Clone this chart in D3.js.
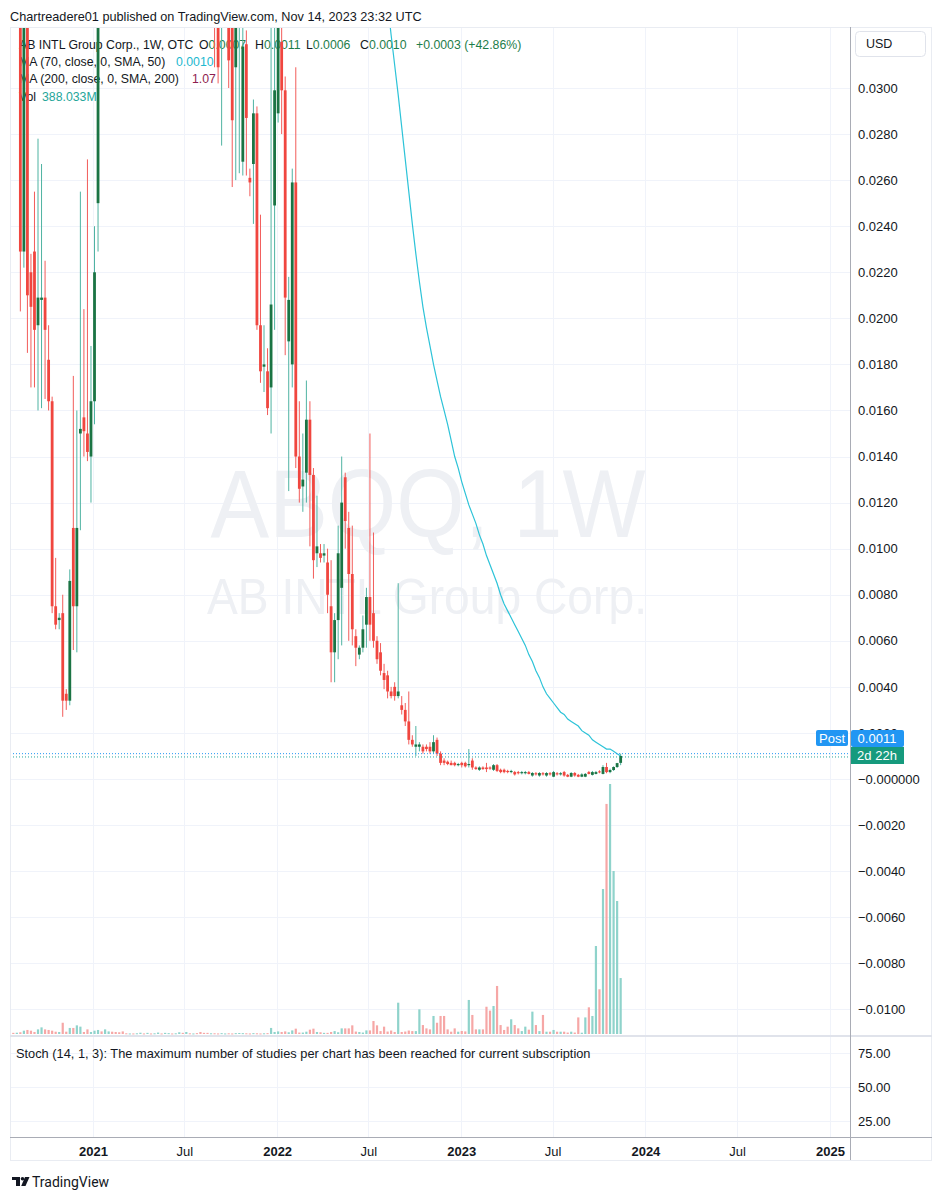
<!DOCTYPE html>
<html>
<head>
<meta charset="utf-8">
<title>ABQQ, 1W</title>
<style>
  body { margin: 0; background: #fff; }
</style>
</head>
<body>
<div id="chart"></div>
<script src="https://d3js.org/d3.v7.min.js"></script>
<script>
// weekly candles, first week starts Monday 2020-07-27 (null = candle above the visible range)
const firstWeek = "2020-07-27";

const opens = [
  null, null, 0.0380, 0.0229, 0.0360, 0.0220, 0.0229, 0.0197, 0.0208, 0.0209,
  0.0182, 0.0164, 0.0075, 0.0069, 0.0072, 0.0037, 0.0034, 0.0109, 0.0075, 0.0150,
  0.0157, 0.0150, 0.0140, 0.0164, 0.0250, null, null, null, null, null,
  null, null, null, null, null, null, null, null, null, null,
  null, null, null, null, null, null, null, null, null, null,
  null, null, null, null, null, null, null, 0.0500, 0.0400, 0.0330,
  null, 0.0400, 0.0340, 0.0309, 0.0340, 0.0268, 0.0319, 0.0261, 0.0267, 0.0289,
  0.0197, 0.0179, 0.0177, 0.0170, 0.0249, 0.0289, 0.0320, 0.0299, 0.0190, 0.0180,
  0.0259, 0.0140, 0.0127, 0.0133, 0.0156, 0.0132, 0.0098, 0.0098, 0.0097, 0.0094,
  0.0075, 0.0055, 0.0069, 0.0083, 0.0131, 0.0109, 0.0089, 0.0062, 0.0054, 0.0057,
  0.0067, 0.0079, 0.0072, 0.0060, 0.0055, 0.0046, 0.0045, 0.0038, 0.0040, 0.0036,
  0.0032, 0.0030, 0.0025, 0.0017, 0.0014, 0.0014, 0.0014, 0.0014, 0.0014, 0.0012,
  0.0017, 0.0011, 0.0008, 0.00075, 0.0007, 0.0007, 0.0006, 0.0007, 0.0007, 0.0006,
  0.0008, 0.0005, 0.0004, 0.0005, 0.0005, 0.0005, 0.0004, 0.0006, 0.0004, 0.0004,
  0.00035, 0.0003, 0.0003, 0.0003, 0.00025, 0.00025, 0.0003, 0.00015, 0.00025, 0.00015,
  0.00025, 0.00015, 0.00025, 0.0001, 0.00025, 0.0002, 0.0003, 0.00018, 0.0001, 0.00026,
  0.00018, 0.0001, 0.0001, 0.0003, 0.00018, 0.00022, 0.00033, 0.00022, 0.00052, 0.0003,
  0.00039, 0.00052, 0.0007
];

const highs = [
  null, null, 0.0420, 0.0400, 0.0380, 0.0228, 0.0255, 0.0278, 0.0267, 0.0225,
  0.0197, 0.0166, 0.0096, 0.0072, 0.0080, 0.0039, 0.0091, 0.0175, 0.0160, 0.0255,
  0.0204, 0.0269, 0.0188, 0.0240, 0.0450, null, null, null, null, null,
  null, null, null, null, null, null, null, null, null, null,
  null, null, null, null, null, null, null, null, null, null,
  null, null, null, null, null, null, null, 0.0550, 0.0430, 0.0400,
  null, 0.0420, 0.0360, 0.0400, 0.0390, 0.0340, 0.0325, 0.0265, 0.0295, 0.0292,
  0.0245, 0.0197, 0.0187, 0.0330, 0.0330, 0.0360, 0.0340, 0.0305, 0.0218, 0.0265,
  0.0309, 0.0164, 0.0150, 0.0173, 0.0164, 0.0135, 0.0123, 0.0102, 0.0102, 0.0100,
  0.0095, 0.0072, 0.0110, 0.0140, 0.0133, 0.0116, 0.0110, 0.0065, 0.0058, 0.0071,
  0.0083, 0.0150, 0.0107, 0.0062, 0.0059, 0.0050, 0.0047, 0.0040, 0.0042, 0.0085,
  0.0036, 0.0033, 0.0038, 0.0019, 0.0023, 0.0016, 0.0015, 0.0015, 0.0016, 0.0019,
  0.0018, 0.0012, 0.0009, 0.0008, 0.0008, 0.00075, 0.0007, 0.00075, 0.00075, 0.0013,
  0.0009, 0.00055, 0.00055, 0.00055, 0.0007, 0.00055, 0.00065, 0.00065, 0.00045, 0.00045,
  0.0004, 0.0004, 0.00035, 0.00035, 0.00035, 0.00035, 0.00035, 0.0003, 0.0003, 0.0003,
  0.0003, 0.0003, 0.0003, 0.00035, 0.0003, 0.0003, 0.00035, 0.00022, 0.0003, 0.0003,
  0.00022, 0.00025, 0.00026, 0.00035, 0.00035, 0.00035, 0.00038, 0.0006, 0.0007, 0.00045,
  0.00055, 0.0007, 0.0011
];

const lows = [
  null, null, 0.0203, 0.0222, 0.0185, 0.0170, 0.0170, 0.0160, 0.0161, 0.0165,
  0.0160, 0.0072, 0.0065, 0.0065, 0.0027, 0.0030, 0.0032, 0.0056, 0.0055, 0.0108,
  0.0140, 0.0138, 0.0120, 0.0154, 0.0229, null, null, null, null, null,
  null, null, null, null, null, null, null, null, null, null,
  null, null, null, null, null, null, null, null, null, null,
  null, null, null, null, null, null, null, 0.0309, 0.0302, 0.0275,
  null, 0.0300, 0.0257, 0.0260, 0.0263, 0.0262, 0.0262, 0.0253, 0.0241, 0.0195,
  0.0172, 0.0168, 0.0158, 0.0150, 0.0195, 0.0285, 0.0280, 0.0184, 0.0125, 0.0170,
  0.0135, 0.0120, 0.0116, 0.0120, 0.0101, 0.0087, 0.0092, 0.0094, 0.0094, 0.0072,
  0.0042, 0.0042, 0.0052, 0.0058, 0.0100, 0.0060, 0.0058, 0.0049, 0.0052, 0.0055,
  0.0057, 0.0060, 0.0057, 0.0050, 0.0045, 0.0039, 0.0035, 0.0035, 0.0034, 0.0035,
  0.0028, 0.0023, 0.0015, 0.0014, 0.0010, 0.0012, 0.0011, 0.0012, 0.0011, 0.0011,
  0.0010, 0.0006, 0.0006, 0.0006, 0.0006, 0.00055, 0.00055, 0.0005, 0.0005, 0.0005,
  0.0004, 0.0004, 0.00035, 0.0004, 0.0003, 0.0004, 0.00035, 0.0003, 0.00025, 0.00025,
  0.00025, 0.00025, 0.00015, 0.0002, 0.0002, 0.0002, 0.0002, 0.0001, 0.00015, 0.0001,
  0.00015, 0.0001, 0.00015, 0.00008, 0.00015, 0.00015, 0.0001, 0.00008, 0.00008, 0.0001,
  0.00008, 0.00008, 0.00008, 0.0002, 0.00015, 0.0002, 0.00025, 0.0002, 0.00025, 0.00025,
  0.00035, 0.00048, 0.0006
];

const closes = [
  null, null, 0.0229, 0.0360, 0.0210, 0.0205, 0.0195, 0.0209, 0.0209, 0.0195,
  0.0164, 0.0075, 0.0067, 0.0070, 0.0034, 0.0034, 0.0086, 0.0075, 0.0109, 0.0152,
  0.0151, 0.0142, 0.0164, 0.0220, 0.0420, null, null, null, null, null,
  null, null, null, null, null, null, null, null, null, null,
  null, null, null, null, null, null, null, null, null, null,
  null, null, null, null, null, null, null, 0.0400, 0.0309, 0.0380,
  null, 0.0312, 0.0286, 0.0360, 0.0370, 0.0318, 0.0287, 0.0259, 0.0289, 0.0197,
  0.0177, 0.0180, 0.0161, 0.0206, 0.0299, 0.0330, 0.0299, 0.0209, 0.0208, 0.0259,
  0.0140, 0.0126, 0.0130, 0.0156, 0.0132, 0.0095, 0.0101, 0.0096, 0.0098, 0.0080,
  0.0055, 0.0069, 0.0098, 0.0120, 0.0112, 0.0089, 0.0065, 0.0057, 0.0057, 0.0065,
  0.0079, 0.0067, 0.0060, 0.0052, 0.0047, 0.0043, 0.0038, 0.0036, 0.0036, 0.0038,
  0.0030, 0.0025, 0.0017, 0.0015, 0.0015, 0.0015, 0.0012, 0.0013, 0.0012, 0.0016,
  0.0011, 0.0007, 0.0007, 0.00065, 0.0006, 0.0006, 0.00065, 0.0006, 0.00055, 0.00065,
  0.0005, 0.00043, 0.0005, 0.00043, 0.00043, 0.00045, 0.0006, 0.00035, 0.0003, 0.0003,
  0.0003, 0.00035, 0.0002, 0.00025, 0.0003, 0.0003, 0.00022, 0.00026, 0.0002, 0.00026,
  0.0002, 0.00026, 0.0002, 0.0003, 0.0002, 0.00025, 0.00015, 0.0001, 0.00026, 0.00015,
  0.0001, 0.0002, 0.00022, 0.00022, 0.0003, 0.0003, 0.0003, 0.00052, 0.0003, 0.00039,
  0.00052, 0.00069, 0.0010
];

// weekly volume, millions of shares
const volumes = [
  8, 9, 12, 23, 28, 23, 14, 32, 46, 32,
  28, 23, 16, 14, 78, 16, 42, 42, 60, 51,
  14, 32, 14, 23, 28, 18, 32, 18, 16, 14,
  12, 18, 5, 4, 4, 5, 9, 4, 8, 4,
  5, 10, 4, 8, 6, 4, 5, 12, 8, 14,
  5, 4, 6, 14, 8, 8, 5, 5, 4, 6,
  4, 5, 4, 6, 7, 6, 5, 4, 6, 5,
  4, 5, 6, 42, 14, 18, 14, 18, 12, 25,
  37, 10, 10, 16, 30, 37, 14, 12, 8, 8,
  14, 20, 12, 39, 39, 39, 60, 17, 14, 10,
  25, 25, 90, 60, 20, 51, 17, 24, 14, 217,
  14, 17, 24, 20, 20, 171, 62, 39, 32, 125,
  78, 125, 125, 32, 16, 39, 16, 21, 18, 236,
  132, 32, 32, 32, 189, 162, 194, 333, 62, 28,
  51, 102, 62, 39, 20, 51, 30, 155, 62, 20,
  132, 16, 16, 28, 16, 16, 16, 10, 16, 10,
  115, 9, 115, 185, 125, 610, 310, 1005, 1595, 1733,
  1130, 922, 388
];

// up (1) / down (0) colour of the volume bars whose candle is off the chart, in order
const hiddenUp = [
  0, 1,
  0, 1, 1, 0, 0, 0, 0, 0, 1, 0, 1, 1, 0, 1, 0, 1,
  1, 0, 1, 1, 0, 1, 1, 0, 1, 0, 1, 0, 0, 0, 0, 1,
  1
];

// MA (70, close, 0, SMA, 50), visible part from week of 2022-08-08
const maFrom = "2022-08-08";
const maValues = [
  0.0337, 0.0323, 0.0310, 0.0297, 0.0283, 0.0269, 0.0255, 0.0241, 0.0228, 0.0216,
  0.0205, 0.0196, 0.0188, 0.0180, 0.0173, 0.0166, 0.0160, 0.0154, 0.0147, 0.0140,
  0.0135, 0.0129, 0.0124, 0.0119, 0.0115, 0.0111, 0.0106, 0.0102, 0.0097, 0.0093,
  0.0089, 0.0085, 0.0080, 0.0076, 0.0073, 0.0070, 0.0067, 0.0064, 0.0061, 0.0058,
  0.0054, 0.0051, 0.0047, 0.0044, 0.0040, 0.0037, 0.0035, 0.0033, 0.0031, 0.0029,
  0.0028, 0.0026, 0.0025, 0.0024, 0.0023, 0.0021, 0.0020, 0.0019, 0.0017, 0.0016,
  0.0015, 0.0014, 0.0013, 0.0013, 0.0012, 0.0011, 0.0010
];

const priceTicks = [0.030, 0.028, 0.026, 0.024, 0.022, 0.020, 0.018, 0.016, 0.014, 0.012, 0.010,
  0.008, 0.006, 0.004, 0.002, 0, -0.002, -0.004, -0.006, -0.008, -0.010];
const priceLabels = ["0.0300", "0.0280", "0.0260", "0.0240", "0.0220", "0.0200", "0.0180", "0.0160",
  "0.0140", "0.0120", "0.0100", "0.0080", "0.0060", "0.0040", "0.0020", "\u22120.000000",
  "\u22120.0020", "\u22120.0040", "\u22120.0060", "\u22120.0080", "\u22120.0100"];
const timeTicks = ["2021-01-01", "2021-07-01", "2022-01-01", "2022-07-01", "2023-01-01",
  "2023-07-01", "2024-01-01", "2024-07-01", "2025-01-01"];
const timeLabels = ["2021", "Jul", "2022", "Jul", "2023", "Jul", "2024", "Jul", "2025"];
const stochTicks = [75, 50, 25];
const stochLabels = ["75.00", "50.00", "25.00"];

const legendOhlcNames = ["O", "H", "L", "C"];
const legendOhlcValues = ["0.0007", "0.0011", "0.0006", "0.0010"];
const legendChange = "+0.0003 (+42.86%)";
const postPrice = 0.0011;
const lastClose = 0.0010;

console.assert([opens, highs, lows, closes, volumes].every(a => a.length === 173), "length");

// layout
const FONT = '"Liberation Sans", Arial, sans-serif';
const chartLeft = 10, chartRight = 932, axisX = 850, paneTop = 27, paneBottom = 1035, timeTop = 1137, chartBottom = 1160;
const upBody = "#1b7444", upWick = "#4fb3a2", downBody = "#f0463f", downWick = "#f25c5a";
const upVol = "#8fd3cb", downVol = "#f6a7a6";

const parse = d3.utcParse("%Y-%m-%d");
const x = d3.scaleUtc().domain([parse("2021-01-01"), parse("2025-01-01")]).range([93, 830]);
const y = d3.scaleLinear().domain([0, 0.03]).range([779, 88]);
const yVol = d3.scaleLinear().domain([0, 1740]).range([1034, 783]);
const yStoch = d3.scaleLinear().domain([0, 100]).range([1155, 1019]);

const start = parse(firstWeek);
let k = 0;
const weeks = volumes.map((v, i) => {
  const w = {date: d3.utcDay.offset(start, 7 * i), o: opens[i], h: highs[i], l: lows[i], c: closes[i], v: v};
  w.up = w.o == null ? hiddenUp[k++] === 1 : w.c >= w.o;
  return w;
});
const maStart = parse(maFrom);
const ma = maValues.map((v, i) => ({date: d3.utcDay.offset(maStart, 7 * i), v: v}));

const svg = d3.select("#chart").append("svg")
  .attr("width", 942).attr("height", 1200)
  .style("font-family", FONT);

svg.append("rect").attr("width", 942).attr("height", 1200).attr("fill", "#fff");

// header line
svg.append("text").attr("x", 10).attr("y", 17).attr("dy", "0.35em")
  .attr("font-size", 12.7).attr("fill", "#131722")
  .text("Chartreadere01 published on TradingView.com, Nov 14, 2023 23:32 UTC");

// grid
const px = v => Math.round(v) + 0.5;
const grid = svg.append("g").attr("stroke", "#f0f3fa").attr("stroke-width", 1);
grid.selectAll(".hg").data(priceTicks).join("line").attr("class", "hg")
  .attr("x1", chartLeft).attr("x2", axisX).attr("y1", d => px(y(d))).attr("y2", d => px(y(d)));
grid.selectAll(".sg").data(stochTicks).join("line").attr("class", "sg")
  .attr("x1", chartLeft).attr("x2", axisX).attr("y1", d => px(yStoch(d))).attr("y2", d => px(yStoch(d)));
grid.selectAll(".vg").data(timeTicks).join("line").attr("class", "vg")
  .attr("x1", d => px(x(parse(d)))).attr("x2", d => px(x(parse(d))))
  .attr("y1", paneTop).attr("y2", timeTop);

// watermark
const wm = svg.append("g").attr("fill", "#eef0f4").attr("text-anchor", "middle");
wm.append("text").attr("x", 428).attr("y", 537).attr("font-size", 96)
  .attr("textLength", 435).attr("lengthAdjust", "spacingAndGlyphs").text("ABQQ, 1W");
wm.append("text").attr("x", 427).attr("y", 614).attr("font-size", 50)
  .attr("textLength", 440).attr("lengthAdjust", "spacingAndGlyphs").text("AB INTL Group Corp.");

// legend (drawn under the candles, as in the original)
const lg = svg.append("g").attr("font-size", 12.3).attr("fill", "#131722");
const l1 = lg.append("text").attr("x", 19).attr("y", 45).attr("dy", "0.35em");
l1.append("tspan").text("AB INTL Group Corp., 1W, OTC");
const ohlcX = [199, 255, 306, 360];
legendOhlcNames.forEach((n, i) => {
  l1.append("tspan").attr("x", ohlcX[i]).text(n);
  l1.append("tspan").attr("fill", "#1e7d4a").text(legendOhlcValues[i]);
});
l1.append("tspan").attr("x", 416).attr("fill", "#1e7d4a").text(legendChange);
const l2 = lg.append("text").attr("x", 19).attr("y", 62).attr("dy", "0.35em");
l2.append("tspan").text("MA (70, close, 0, SMA, 50)");
l2.append("tspan").attr("x", 176).attr("fill", "#22b8cf").text("0.0010");
const l3 = lg.append("text").attr("x", 19).attr("y", 79).attr("dy", "0.35em");
l3.append("tspan").text("MA (200, close, 0, SMA, 200)");
l3.append("tspan").attr("x", 192).attr("fill", "#8e1d4f").text("1.07");
const l4 = lg.append("text").attr("x", 19).attr("y", 97).attr("dy", "0.35em");
l4.append("tspan").text("Vol");
l4.append("tspan").attr("x", 42).attr("fill", "#26a69a").text("388.033M");

// clip for the price pane
svg.append("clipPath").attr("id", "pane").append("rect")
  .attr("x", chartLeft).attr("y", paneTop).attr("width", axisX - chartLeft).attr("height", paneBottom - paneTop);
const pane = svg.append("g").attr("clip-path", "url(#pane)");

// volume
pane.append("g").selectAll("rect").data(weeks).join("rect")
  .attr("x", d => x(d.date) - 1.1).attr("width", 2.2)
  .attr("y", d => yVol(d.v)).attr("height", d => Math.max(1, yVol(0) - yVol(d.v)))
  .attr("fill", d => d.up ? upVol : downVol);

// moving average
pane.append("path").datum(ma)
  .attr("fill", "none").attr("stroke", "#2dc3d8").attr("stroke-width", 1.2)
  .attr("d", d3.line().x(d => x(d.date)).y(d => y(d.v)));

// candles
const candles = weeks.filter(d => d.o != null);
const cg = pane.append("g");
cg.selectAll("line").data(candles).join("line")
  .attr("x1", d => x(d.date)).attr("x2", d => x(d.date))
  .attr("y1", d => y(d.h)).attr("y2", d => y(d.l))
  .attr("stroke", d => d.up ? upWick : downWick).attr("stroke-width", 1);
cg.selectAll("rect").data(candles).join("rect")
  .attr("x", d => x(d.date) - 1.4).attr("width", 2.8)
  .attr("y", d => y(Math.max(d.o, d.c)))
  .attr("height", d => Math.max(1, Math.abs(y(d.o) - y(d.c))))
  .attr("fill", d => d.up ? upBody : downBody);

// last price lines
pane.append("line").attr("x1", chartLeft).attr("x2", axisX)
  .attr("y1", y(postPrice)).attr("y2", y(postPrice))
  .attr("stroke", "#2196f3").attr("stroke-dasharray", "1,2");
pane.append("line").attr("x1", chartLeft).attr("x2", axisX)
  .attr("y1", y(lastClose) + 1).attr("y2", y(lastClose) + 1)
  .attr("stroke", "#26a69a").attr("stroke-dasharray", "1,2");

// stoch pane text
svg.append("text").attr("x", 16).attr("y", 1054).attr("dy", "0.35em")
  .attr("font-size", 12.8).attr("fill", "#131722")
  .text("Stoch (14, 1, 3): The maximum number of studies per chart has been reached for current subscription");

// frame & separators
svg.append("rect").attr("x", chartLeft + 0.5).attr("y", paneTop + 0.5)
  .attr("width", chartRight - chartLeft - 1).attr("height", chartBottom - paneTop)
  .attr("fill", "none").attr("stroke", "#e9ecf2");
svg.append("line").attr("x1", chartLeft).attr("x2", chartRight).attr("y1", paneBottom + 1).attr("y2", paneBottom + 1)
  .attr("stroke", "#e0e3eb").attr("stroke-width", 2);
svg.append("line").attr("x1", chartLeft).attr("x2", chartRight).attr("y1", timeTop + 0.5).attr("y2", timeTop + 0.5)
  .attr("stroke", "#a9acb5");
svg.append("line").attr("x1", axisX + 0.5).attr("x2", axisX + 0.5).attr("y1", paneTop).attr("y2", chartBottom)
  .attr("stroke", "#a9acb5");

// price axis
const yAxis = d3.axisRight(y).tickValues(priceTicks)
  .tickFormat((d, i) => priceLabels[i]).tickSize(0).tickPadding(8);
svg.append("g").attr("transform", `translate(${axisX},0)`).call(yAxis)
  .call(g => g.select(".domain").remove())
  .call(g => g.selectAll("text").attr("font-family", FONT).attr("font-size", 13).attr("fill", "#131722"));

const sAxis = d3.axisRight(yStoch).tickValues(stochTicks)
  .tickFormat((d, i) => stochLabels[i]).tickSize(0).tickPadding(8);
svg.append("g").attr("transform", `translate(${axisX},0)`).call(sAxis)
  .call(g => g.select(".domain").remove())
  .call(g => g.selectAll("text").attr("font-family", FONT).attr("font-size", 13).attr("fill", "#131722"));

// time axis
const xAxis = d3.axisBottom(x).tickValues(timeTicks.map(parse))
  .tickFormat((d, i) => timeLabels[i]).tickSize(0);
svg.append("g").attr("transform", `translate(0,${timeTop})`).call(xAxis)
  .call(g => g.select(".domain").remove())
  .call(g => g.selectAll("text").attr("y", 14).attr("dy", "0.35em")
    .attr("font-family", FONT).attr("font-size", 13).attr("fill", "#131722")
    .attr("font-weight", (d, i) => /^\d/.test(timeLabels[i]) ? "bold" : "normal"));

// currency box
svg.append("rect").attr("x", 855.5).attr("y", 31.5).attr("width", 70).attr("height", 25).attr("rx", 4)
  .attr("fill", "#fff").attr("stroke", "#e0e3eb");
svg.append("text").attr("x", 866).attr("y", 44).attr("dy", "0.35em")
  .attr("font-size", 12.5).attr("fill", "#131722").text("USD");

// price badges (the 0.0020 tick label sits behind them, as in the original)
const badges = svg.append("g").attr("font-size", 13).attr("fill", "#fff");
badges.append("rect").attr("x", 816).attr("y", 730).attr("width", 32).attr("height", 16).attr("rx", 2).attr("fill", "#2196f3");
badges.append("text").attr("x", 832).attr("y", 738).attr("dy", "0.35em").attr("text-anchor", "middle").text("Post");
badges.append("rect").attr("x", 851).attr("y", 730).attr("width", 53).attr("height", 17).attr("rx", 2).attr("fill", "#2196f3");
badges.append("text").attr("x", 877).attr("y", 738.5).attr("dy", "0.35em").attr("text-anchor", "middle").text("0.0011");
badges.append("rect").attr("x", 851).attr("y", 747).attr("width", 53).attr("height", 17).attr("fill", "#169a7d");
badges.append("text").attr("x", 877).attr("y", 755.5).attr("dy", "0.35em").attr("text-anchor", "middle").text("2d 22h");

// footer logo
const logo = svg.append("g").attr("fill", "#131722");
logo.append("path").attr("d", "M12,1177h8v9h-4v-6h-4z");
logo.append("circle").attr("cx", 22.5).attr("cy", 1178.8).attr("r", 1.8);
logo.append("path").attr("d", "M25,1177h4.5l-4,9h-4.3z");
logo.append("text").attr("x", 32).attr("y", 1182).attr("dy", "0.35em")
  .attr("font-size", 14).attr("font-family", '"Roboto", sans-serif').text("TradingView");
</script>
</body>
</html>
